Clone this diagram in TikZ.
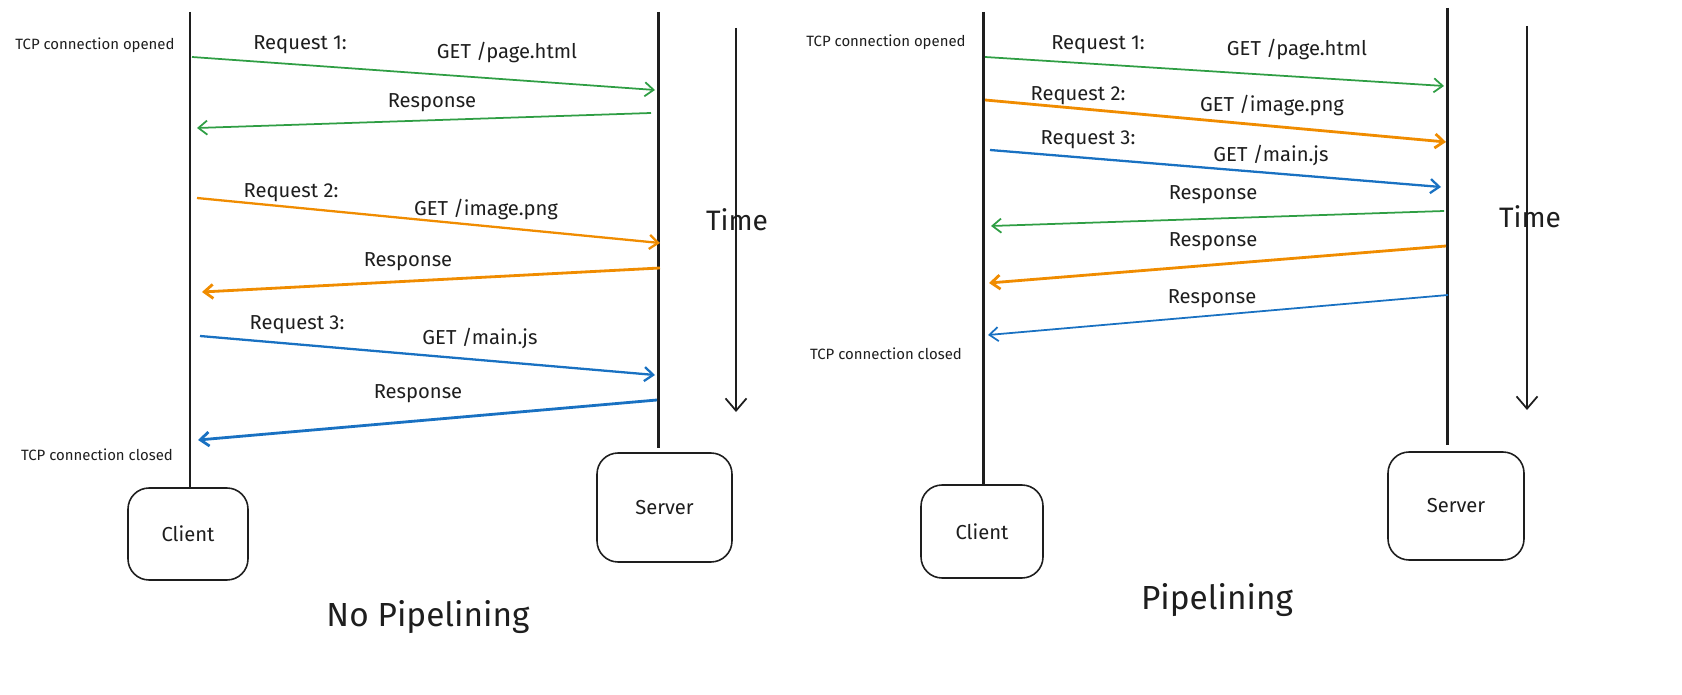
\documentclass[tikz,border=0pt]{standalone}
\usepackage{fontspec}
\setmainfont{Fira Sans}
\usetikzlibrary{arrows.meta}
\definecolor{ink}{RGB}{30,30,30}
\definecolor{reqgreen}{RGB}{47,158,68}
\definecolor{reqorange}{RGB}{240,140,0}
\definecolor{reqblue}{RGB}{25,113,194}
\tikzset{
  life/.style={ink, line width=1.7pt},
  box/.style={draw=ink, line width=0.9pt, rounded corners=12pt, fill=white},
  msg/.style={line width=1pt, -{Straight Barb[length=5pt,width=8pt]}},
  lbl/.style={font=\fontsize{11.5}{13}\selectfont, text=ink},
  tcp/.style={font=\fontsize{8.5}{10}\selectfont, text=ink},
}
\begin{document}
\begin{tikzpicture}[x=0.02cm, y=-0.02cm]
        \useasboundingbox (0,0) rectangle (1682,695);

        % No pipelining: lifelines and boxes
        \draw[life] (190,12) coordinate (cTop) -- (190,490) coordinate (cBot);
        \draw[life] (658,12) coordinate (sTop) -- (658,448) coordinate (sBot);
        \draw[box] (128,488) rectangle node[lbl] (client) {Client} (248,580);
        \draw[box] (597,453) rectangle node[lbl] (server) {Server} (732,562);
        \coordinate (tA) at (736,28);
        \coordinate (tB) at (736,412);
        \draw[ink, line width=1pt, -{Straight Barb[length=7pt,width=12pt]}] (tA) -- (tB);
        \node[font=\fontsize{16}{19}\selectfont, text=ink] (time) at (737,220) {Time};
        \node[font=\fontsize{19}{23}\selectfont, text=ink] (title) at (428,617) {No Pipelining};
        \node[tcp] (open) at (95,45) {TCP connection opened};
        \node[tcp] (close) at (97,455) {TCP connection closed};

        % Messages
        \coordinate (a1) at (192,57);  \coordinate (b1) at (655,90);
        \coordinate (a2) at (651,113); \coordinate (b2) at (197,128);
        \coordinate (a3) at (197,198); \coordinate (b3) at (660,243);
        \coordinate (a4) at (660,268); \coordinate (b4) at (202,292);
        \coordinate (a5) at (200,336); \coordinate (b5) at (655,375);
        \coordinate (a6) at (657,400); \coordinate (b6) at (198,440);
        \draw[msg, reqgreen] (a1) -- (b1);
        \draw[msg, reqgreen] (a2) -- (b2);
        \draw[msg, reqorange, line width=1.3pt] (a3) -- (b3);
        \draw[msg, reqorange, line width=1.6pt] (a4) -- (b4);
        \draw[msg, reqblue, line width=1.3pt] (a5) -- (b5);
        \draw[msg, reqblue, line width=1.6pt] (a6) -- (b6);
        \node[lbl] (q1) at (300,45) {Request 1:};
        \node[lbl] (g1) at (507,53) {GET /page.html};
        \node[lbl] (r1) at (432,103) {Response};
        \node[lbl] (q2) at (291,193) {Request 2:};
        \node[lbl] (g2) at (486,210) {GET /image.png};
        \node[lbl] (r2) at (408,262) {Response};
        \node[lbl] (q3) at (297,325) {Request 3:};
        \node[lbl] (g3) at (480,338) {GET /main.js};
        \node[lbl] (r3) at (418,394) {Response};

        % Pipelining: lifelines and boxes
        \draw[life] (983,12) coordinate (pcTop) -- (983,488) coordinate (pcBot);
        \draw[life] (1447,8) coordinate (psTop) -- (1447,445) coordinate (psBot);
        \draw[box] (921,485) rectangle node[lbl] (pclient) {Client} (1043,578);
        \draw[box] (1388,452) rectangle node[lbl] (pserver) {Server} (1524,560);
        \coordinate (ptA) at (1527,26);
        \coordinate (ptB) at (1527,410);
        \draw[ink, line width=1pt, -{Straight Barb[length=7pt,width=12pt]}] (ptA) -- (ptB);
        \node[font=\fontsize{16}{19}\selectfont, text=ink] (ptime) at (1530,217) {Time};
        \node[font=\fontsize{19}{23}\selectfont, text=ink] (ptitle) at (1217,600) {Pipelining};
        \node[tcp] (popen) at (886,42) {TCP connection opened};
        \node[tcp] (pclose) at (886,354) {TCP connection closed};

        % Messages
        \coordinate (pa1) at (985,57);   \coordinate (pb1) at (1444,86);
        \coordinate (pa2) at (985,100);  \coordinate (pb2) at (1446,142);
        \coordinate (pa3) at (990,150);  \coordinate (pb3) at (1441,187);
        \coordinate (pa4) at (1444,211); \coordinate (pb4) at (991,226);
        \coordinate (pa5) at (1446,246); \coordinate (pb5) at (989,283);
        \coordinate (pa6) at (1448,295); \coordinate (pb6) at (988,335);
        \draw[msg, reqgreen] (pa1) -- (pb1);
        \draw[msg, reqorange, line width=1.6pt] (pa2) -- (pb2);
        \draw[msg, reqblue, line width=1.3pt] (pa3) -- (pb3);
        \draw[msg, reqgreen] (pa4) -- (pb4);
        \draw[msg, reqorange, line width=1.6pt] (pa5) -- (pb5);
        \draw[msg, reqblue] (pa6) -- (pb6);
        \node[lbl] (pq1) at (1098,45) {Request 1:};
        \node[lbl] (pg1) at (1297,50) {GET /page.html};
        \node[lbl] (pq2) at (1078,96) {Request 2:};
        \node[lbl] (pg2) at (1272,106) {GET /image.png};
        \node[lbl] (pq3) at (1088,140) {Request 3:};
        \node[lbl] (pg3) at (1271,155) {GET /main.js};
        \node[lbl] (pr1) at (1213,195) {Response};
        \node[lbl] (pr2) at (1213,242) {Response};
        \node[lbl] (pr3) at (1212,299) {Response};
\end{tikzpicture}
\end{document}
